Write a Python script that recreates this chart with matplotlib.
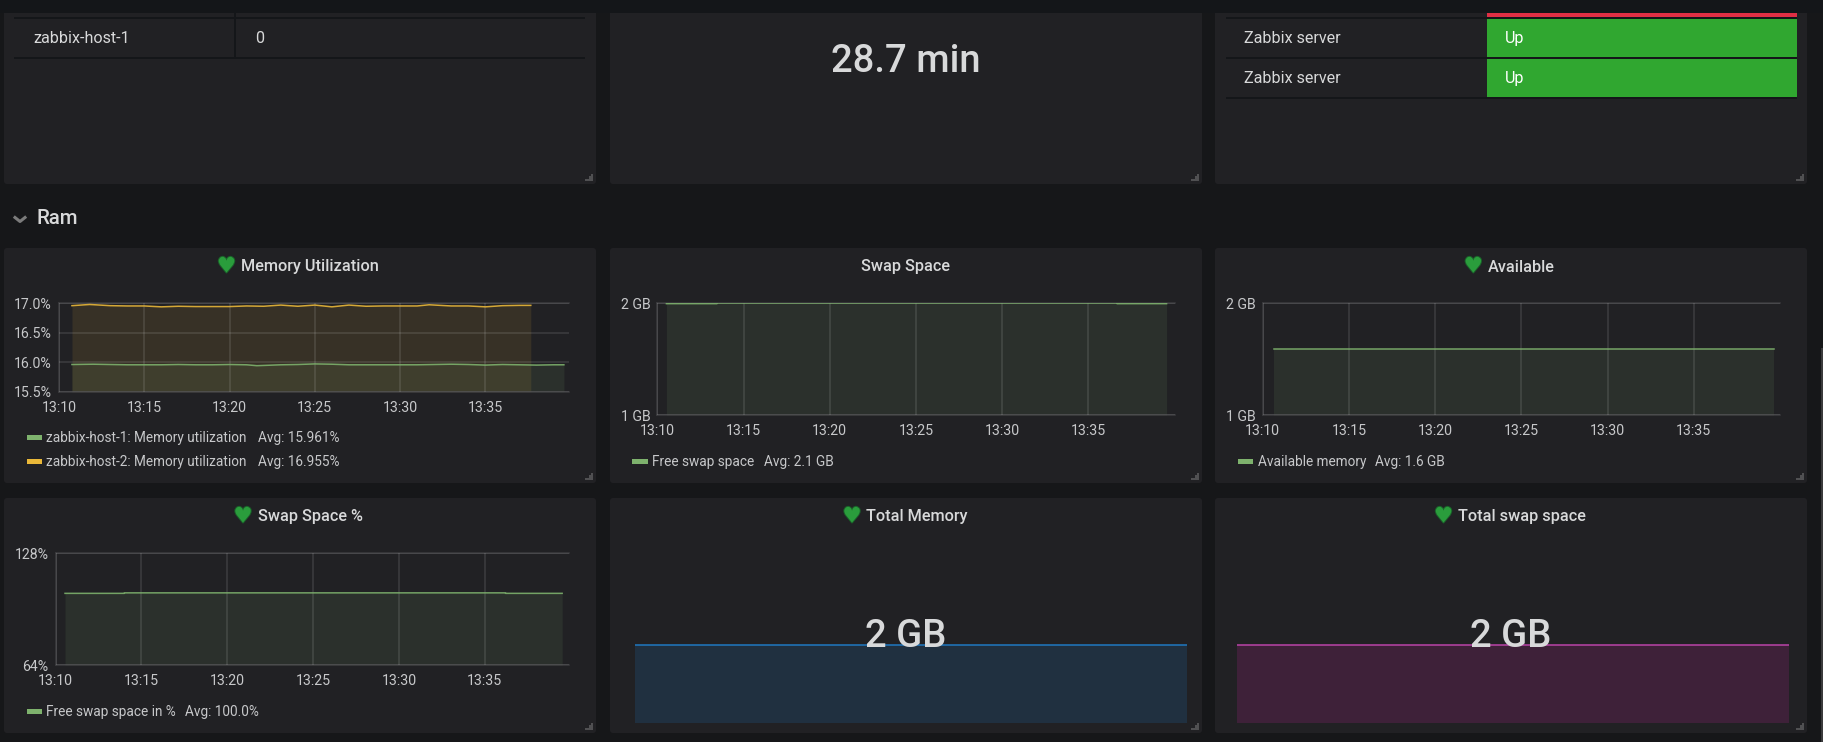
import matplotlib
matplotlib.use("Agg")
import matplotlib.pyplot as plt
import matplotlib.patheffects as pe
from matplotlib.patches import FancyBboxPatch, Rectangle, Polygon

W, H = 1823, 742
BG = "#161719"
PANEL = "#212124"
DARK = "#141619"
TEXT = "#d8d9da"
GREEN = "#7eb26d"
YELLOW = "#eab839"
BLUE = "#1f78c1"
PURPLE = "#ba43a9"

plt.rcParams['font.family'] = ['Roboto', 'DejaVu Sans']

# data
tick_minutes = [10, 15, 20, 25, 30, 35]
tick_labels = ["13:10", "13:15", "13:20", "13:25", "13:30", "13:35"]

host1_t = [10.76, 12, 13, 14, 15, 16, 17, 18, 19, 20, 21, 21.6, 23, 24, 25, 26, 27, 28, 29, 30, 31, 32, 33, 34, 35, 36, 37, 38, 39, 39.6]
host1_mem = [15.965, 15.97, 15.965, 15.96, 15.96, 15.96, 15.965, 15.96, 15.96, 15.965, 15.96, 15.945, 15.96, 15.965, 15.975, 15.97, 15.96, 15.96, 15.96, 15.96, 15.96, 15.965, 15.97, 15.965, 15.955, 15.965, 15.96, 15.955, 15.96, 15.96]
host2_t = [10.76, 11.8, 13, 14, 15, 16, 17, 18, 19, 20, 21, 22, 23, 24, 25, 26, 27, 28, 29, 30, 31, 31.7, 33, 34, 35, 36, 37, 37.66]
host2_mem = [16.96, 16.98, 16.96, 16.955, 16.955, 16.94, 16.95, 16.945, 16.945, 16.945, 16.955, 16.95, 16.97, 16.95, 16.97, 16.94, 16.97, 16.95, 16.955, 16.955, 16.955, 16.975, 16.955, 16.955, 16.94, 16.96, 16.965, 16.965]

swap_t = [10.53, 13.46, 13.47, 36.66, 36.67, 39.54]
swap_gb = [1.992, 1.992, 2.0, 2.0, 1.992, 1.992]
avail_t = [10.64, 39.68]
avail_gb = [1.51, 1.51]
swap_pct_t = [10.55, 14.0, 14.01, 36.2, 36.21, 39.5]
swap_pct = [99.9, 99.9, 100.2, 100.2, 99.9, 99.9]

total_mem = [2.0, 2.0]
total_swap = [2.0, 2.0]

fig = plt.figure(figsize=(W / 100, H / 100), dpi=100, facecolor=BG)
bg = fig.add_axes([0, 0, 1, 1], zorder=0)
bg.set_xlim(0, W)
bg.set_ylim(H, 0)
bg.axis("off")


def px_text(x, y, s, size=10, color=TEXT, ha="left", weight="normal", **kw):
    fig.text(x / W, 1 - y / H, s, fontsize=size, color=color, ha=ha, va="center_baseline",
             weight=weight, zorder=10, **kw)


def px_axes(x0, y0, x1, y1):
    ax = fig.add_axes([x0 / W, 1 - y1 / H, (x1 - x0) / W, (y1 - y0) / H], zorder=2)
    ax.patch.set_alpha(0)
    for s in ax.spines.values():
        s.set_visible(False)
    return ax


def panel(x0, y0, x1, y1):
    bg.add_patch(FancyBboxPatch((x0, y0), x1 - x0, y1 - y0, boxstyle="round,pad=0,rounding_size=3",
                                fc=PANEL, ec="none", zorder=1))
    # resize grip
    bg.add_patch(Polygon([(x1 - 3, y1 - 10), (x1 - 3, y1 - 3), (x1 - 11, y1 - 3), (x1 - 11, y1 - 5),
                          (x1 - 7, y1 - 5), (x1 - 7, y1 - 8), (x1 - 5, y1 - 8), (x1 - 5, y1 - 10)],
                         fc="#505052", ec="none", zorder=2))


def title(x, y, s, heart_x=None):
    px_text(x, y - 0.5, s, size=11.7, weight="medium", color="#d8d9da")
    if heart_x is not None:
        fig.text(heart_x / W, 1 - (y + 0.5) / H, "\u2665", fontsize=15.5, color="#2a9d3c", ha="center",
                 va="center", family="DejaVu Sans", zorder=10,
                 path_effects=[pe.withStroke(linewidth=1.4, foreground="#1b5e2a")])


def legend_row(x, y, color, name, avg_x, avg):
    bg.add_patch(Rectangle((x, y - 2.5), 15.5, 5, fc=color, ec="none", zorder=3))
    px_text(x + 20, y - 0.5, name, size=9.85, color="#c7c8ca")
    px_text(avg_x, y - 0.5, avg, size=9.85, color="#c7c8ca")


def graph(box, xmax, ylim, yticks, ylabels, series, log=False):
    ax = px_axes(*box)
    if log:
        ax.set_yscale("log", base=2)
    for t, v, c in series:
        ax.fill_between(t, v, ylim[0] * 0.5 if log else ylim[0], color=c, alpha=0.11, lw=0, zorder=1)
        ax.plot(t, v, color=c, lw=1.1, alpha=0.9, zorder=3)
    ax.set_xlim(10, xmax)
    ax.set_ylim(*ylim)
    ax.set_xticks(tick_minutes, tick_labels)
    ax.set_yticks(yticks, ylabels)
    ax.minorticks_off()
    ax.grid(True, color="#ffffff", alpha=0.13, lw=1.1, zorder=2)
    ax.set_axisbelow(False)
    ax.tick_params(length=0, colors="#c7c8ca", labelsize=10.2)
    ax.tick_params(axis="x", pad=6.5)
    ax.tick_params(axis="y", pad=5)
    for s in ("left", "bottom", "top"):
        ax.spines[s].set_visible(True)
        ax.spines[s].set_color("#3c3c3f")
        ax.spines[s].set_linewidth(1.1)
    return ax


def spark(box, values, color, fill, ymax):
    ax = px_axes(*box)
    xs = range(len(values))
    ax.fill_between(xs, values, 0, color=fill, lw=0)
    ax.plot(xs, values, color=color, lw=1.1)
    ax.set_xlim(0, len(values) - 1)
    ax.set_ylim(0, ymax)
    ax.set_xticks([])
    ax.set_yticks([])


# panels, top row is cut off by the page edge
for x0, x1 in [(4, 596), (610, 1202), (1215, 1807)]:
    panel(x0, 0, x1, 184)
    panel(x0, 248, x1, 483)
    panel(x0, 498, x1, 733)
bg.add_patch(Rectangle((0, 0), W, 13, fc=DARK, ec="none", zorder=4))
bg.add_patch(Rectangle((1821, 348), 2, 394, fc="#3a3a3c", ec="none", zorder=4))

# left table
for y in (17, 57):
    bg.add_patch(Rectangle((14, y), 571, 2, fc=DARK, ec="none", zorder=3))
bg.add_patch(Rectangle((234, 13), 2, 46, fc=DARK, ec="none", zorder=3))
px_text(33, 37, "zabbix-host-1", size=11.6)
px_text(255, 37, "0", size=11.6)

# uptime
px_text(905.5, 58, "28.7 min", size=27.5, ha="center", weight="medium", color="#d8d9da")

# status table
for y in (17, 57, 97):
    bg.add_patch(Rectangle((1226, y), 571, 2, fc=DARK, ec="none", zorder=3))
bg.add_patch(Rectangle((1487, 13), 310, 4, fc="#e02f44", ec="none", zorder=3))
for y0, y1 in [(19, 57), (59, 97)]:
    bg.add_patch(Rectangle((1487, y0), 310, y1 - y0, fc="#30a730", ec="none", zorder=3))
    px_text(1244.5, (y0 + y1) / 2 - 1, "Zabbix server", size=11.6)
    px_text(1504.7, (y0 + y1) / 2 - 1, "Up", size=11.6, color="#ffffff")

# row header
px_text(36, 216, "Ram", size=14.8, weight="medium", color="#d8d9da")
bg.plot([15, 20, 25], [217.5, 221.5, 217.5], color="#7b7b7b", lw=2.2, zorder=3)

# titles
title(241, 266, "Memory Utilization", 226.5)
title(861, 266, "Swap Space")
title(1488, 266, "Available", 1473.3)
title(257.6, 516, "Swap Space %", 243)
title(866, 516, "Total Memory", 852)
title(1458, 516, "Total swap space", 1443.5)

# graphs
graph((59, 303.3, 569, 392), 39.9, (15.5, 17.0), [15.5, 16.0, 16.5, 17.0],
      ["15.5%", "16.0%", "16.5%", "17.0%"],
      [(host1_t, host1_mem, GREEN), (host2_t, host2_mem, YELLOW)])
legend_row(26.5, 437, GREEN, "zabbix-host-1: Memory utilization", 257.6, "Avg: 15.961%")
legend_row(26.5, 461, YELLOW, "zabbix-host-2: Memory utilization", 257.6, "Avg: 16.955%")

graph((657.3, 303, 1174.5, 415.3), 40, (1, 2), [1, 2], ["1 GB", "2 GB"],
      [(swap_t, swap_gb, GREEN)], log=True)
legend_row(632.4, 461, GREEN, "Free swap space", 763.7, "Avg: 2.1 GB")

graph((1262.8, 303, 1780, 415.3), 40, (1, 2), [1, 2], ["1 GB", "2 GB"],
      [(avail_t, avail_gb, GREEN)], log=True)
legend_row(1237.7, 461, GREEN, "Available memory", 1374.8, "Avg: 1.6 GB")

graph((55.6, 553.3, 569, 665.3), 39.9, (64, 128), [64, 128], ["64%", "128%"],
      [(swap_pct_t, swap_pct, GREEN)], log=True)
legend_row(26.5, 711, GREEN, "Free swap space in %", 185.2, "Avg: 100.0%")

# sparklines with a big value on top
spark((634.8, 598, 1187, 722.7), total_mem, BLUE, "#203040", 3.22)
spark((1237, 598, 1788.8, 722.7), total_swap, PURPLE, "#3e2139", 3.22)
px_text(906, 632.5, "2 GB", size=27.5, ha="center", weight="medium", color="#d8d9da")
px_text(1510.7, 632.5, "2 GB", size=27.5, ha="center", weight="medium", color="#d8d9da")

fig.savefig("out.png", dpi=100, facecolor=BG)
